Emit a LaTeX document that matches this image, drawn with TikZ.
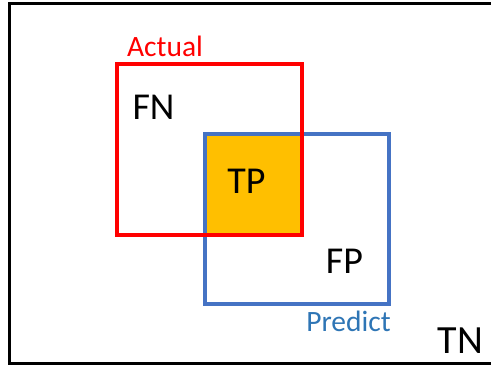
\documentclass[tikz,border=0pt]{standalone}
\usepackage{fontspec}
\setmainfont{Carlito}
\usepackage{tikz}
\usetikzlibrary{calc}
\definecolor{actred}{rgb}{1.0, 0.0, 0.0}
\definecolor{predblue}{rgb}{0.27, 0.45, 0.77}
\definecolor{predtext}{rgb}{0.18, 0.46, 0.71}
\definecolor{tporange}{rgb}{1.0, 0.75, 0.0}

\begin{document}
\begin{tikzpicture}[x=1pt,y=-1pt,
	big/.style={anchor=base,inner sep=0pt,font=\fontsize{38}{42}\selectfont},
	tag/.style={anchor=base,inner sep=0pt,font=\fontsize{29.5}{33}\selectfont}]
			\useasboundingbox (0,0) rectangle (491,366);
			\coordinate (A1) at (117,64);
			\coordinate (A2) at (302,235);
			\coordinate (P1) at (205,134);
			\coordinate (P2) at (389,304);
			
			% overlap
			\fill[tporange] (P1) rectangle (A2);
			\draw[predblue,line width=3.2pt] (P1) rectangle (P2);
			\draw[actred,line width=3.4pt] (A1) rectangle (A2);
			\draw[line width=3pt] (495,4) -- (9,4) -- (9,364) -- (495,364);
			
			\node[tag,actred] (actual) at (165,57) {Actual};
			\node[tag,predtext] (predict) at (348.5,332) {Predict};
			\node[big] (fn) at (153.5,119.5) {FN};
			\node[big] (tp) at (246.5,193.5) {TP};
			\node[big] (fp) at (344.5,273.5) {FP};
			\node[big,font=\fontsize{40}{44}\selectfont] (tn) at (460.5,353.5) {TN};
			\end{tikzpicture}
\end{document}
